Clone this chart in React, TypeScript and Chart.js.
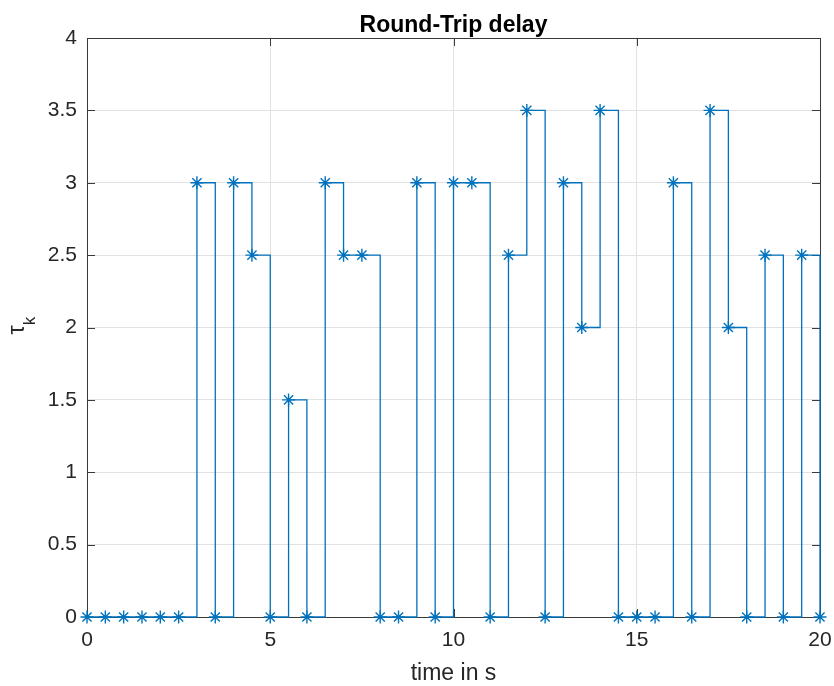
import React, { useEffect, useRef } from 'react';
import { Chart, registerables } from 'chart.js';

Chart.register(...registerables);

const timeS = [0, 0.5, 1, 1.5, 2, 2.5, 3, 3.5, 4, 4.5, 5, 5.5, 6, 6.5, 7, 7.5, 8, 8.5, 9, 9.5, 10, 10.5, 11, 11.5, 12, 12.5, 13, 13.5, 14, 14.5, 15, 15.5, 16, 16.5, 17, 17.5, 18, 18.5, 19, 19.5, 20];
const tauK = [0, 0, 0, 0, 0, 0, 3, 0, 3, 2.5, 0, 1.5, 0, 3, 2.5, 2.5, 0, 0, 3, 0, 3, 3, 0, 2.5, 3.5, 0, 3, 2, 3.5, 0, 0, 0, 3, 0, 3.5, 2, 0, 2.5, 0, 2.5, 0];
const xTicks = [0, 5, 10, 15, 20];
const yTicks = [0, 0.5, 1, 1.5, 2, 2.5, 3, 3.5, 4];
const titleText = 'Round-Trip delay';
const xLabel = 'time in s';
const yLabelMain = 'τ';
const yLabelSub = 'k';

const FONT = '"Liberation Sans", Arial, Helvetica, sans-serif';
const AXIS = '#3a3a3a';
const TEXT = '#262626';
const LINE = '#0072BD';

export default function App() {
  const ref = useRef<HTMLCanvasElement>(null);

  useEffect(() => {
    document.body.style.margin = '0';
    const canvas = ref.current;
    if (!canvas) return;

    const frame = {
      id: 'frame',
      beforeDatasetsDraw(chart: any) {
        const { ctx, chartArea: a, scales } = chart;
        ctx.save();
        ctx.strokeStyle = AXIS;
        ctx.lineWidth = 1;
        ctx.beginPath();
        for (const v of xTicks) {
          const px = Math.round(scales.x.getPixelForValue(v)) + 0.5;
          ctx.moveTo(px, a.bottom);
          ctx.lineTo(px, a.bottom - 8);
          ctx.moveTo(px, a.top);
          ctx.lineTo(px, a.top + 8);
        }
        for (const v of yTicks) {
          const py = Math.round(scales.y.getPixelForValue(v)) + 0.5;
          ctx.moveTo(a.left, py);
          ctx.lineTo(a.left + 8, py);
          ctx.moveTo(a.right, py);
          ctx.lineTo(a.right - 8, py);
        }
        ctx.stroke();
        ctx.strokeRect(Math.round(a.left) + 0.5, Math.round(a.top) + 0.5, Math.round(a.right - a.left), Math.round(a.bottom - a.top));
        ctx.restore();
      },
      afterDraw(chart: any) {
        const { ctx, chartArea: a } = chart;
        const cx = (a.left + a.right) / 2;
        ctx.save();
        ctx.fillStyle = '#000';
        ctx.textAlign = 'center';
        ctx.textBaseline = 'alphabetic';
        ctx.font = `bold 23px ${FONT}`;
        ctx.fillText(titleText, cx, 32);
        ctx.fillStyle = TEXT;
        ctx.font = `23px ${FONT}`;
        ctx.fillText(xLabel, cx, 680);
        ctx.save();
        ctx.translate(24, 330);
        ctx.rotate(-Math.PI / 2);
        ctx.font = `23px ${FONT}`;
        ctx.fillText(yLabelMain, 0, 0);
        ctx.restore();
        ctx.save();
        ctx.translate(35, 321);
        ctx.rotate(-Math.PI / 2);
        ctx.font = `17px ${FONT}`;
        ctx.fillText(yLabelSub, 0, 0);
        ctx.restore();
        ctx.restore();
      },
    };

    const chart = new Chart(canvas, {
      type: 'line',
      data: {
        datasets: [
          {
            data: timeS.map((t, i) => ({ x: t, y: tauK[i] })),
            stepped: 'before',
            borderColor: LINE,
            borderWidth: 1.3,
            pointStyle: 'star',
            pointRadius: 6.5,
            pointBorderColor: LINE,
            pointBackgroundColor: LINE,
            pointBorderWidth: 1.4,
            fill: false,
            clip: false as any,
          },
        ],
      },
      options: {
        responsive: false,
        animation: false,
        events: [],
        layout: { padding: { left: 0, right: 14, top: 38, bottom: 0 } },
        plugins: {
          legend: { display: false },
          title: { display: false },
          tooltip: { enabled: false },
        },
        scales: {
          x: {
            type: 'linear',
            min: 0,
            max: 20,
            afterBuildTicks(scale: any) {
              scale.ticks = xTicks.map((v) => ({ value: v }));
            },
            afterFit(scale: any) {
              scale.height = 69;
              scale.paddingLeft = 0;
              scale.paddingRight = 0;
            },
            ticks: {
              color: TEXT,
              font: { family: FONT, size: 21 },
              padding: 11,
              maxRotation: 0,
              callback: (v: any) => String(v),
            },
            grid: { color: '#e2e2e2', drawTicks: false, lineWidth: 1 },
            border: { display: false },
          },
          y: {
            type: 'linear',
            min: 0,
            max: 4,
            afterBuildTicks(scale: any) {
              scale.ticks = yTicks.map((v) => ({ value: v }));
            },
            afterFit(scale: any) {
              scale.width = 87;
              scale.paddingTop = 0;
              scale.paddingBottom = 0;
            },
            ticks: {
              color: TEXT,
              font: { family: FONT, size: 21 },
              padding: 10,
              callback: (v: any) => String(v),
            },
            grid: { color: '#e2e2e2', drawTicks: false, lineWidth: 1 },
            border: { display: false },
          },
        },
      },
      plugins: [frame],
    });

    return () => chart.destroy();
  }, []);

  return <canvas ref={ref} width={834} height={686} style={{ display: 'block' }} />;
}
